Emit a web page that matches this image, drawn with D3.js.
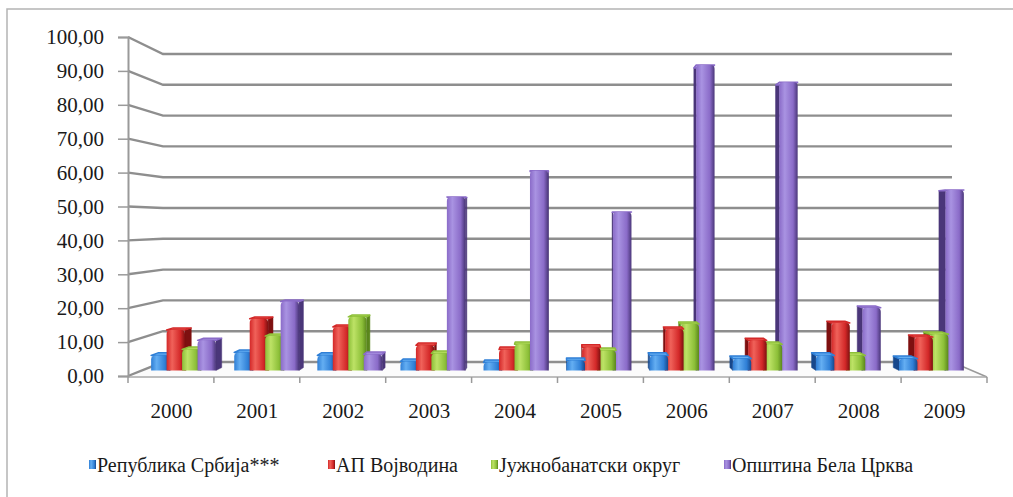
<!DOCTYPE html>
<html>
<head>
<meta charset="utf-8">
<script src="https://cdn.jsdelivr.net/npm/d3@7"></script>
<style>
body{margin:0;background:#fff;}
svg text{font-family:"Liberation Serif","Times New Roman","DejaVu Serif",serif;fill:#1a1a1a;}
</style>
</head>
<body>
<svg width="1013" height="497"></svg>
<script>
// data
var years=['2000','2001','2002','2003','2004','2005','2006','2007','2008','2009'];
var seriesNames=['Република Србија***','АП Војводина','Јужнобанатски округ','Општина Бела Црква'];
var srbija=[4.6,5.5,4.6,2.7,2.4,3.0,4.6,3.6,4.6,3.6];
var vojvodina=[12.4,15.8,13.3,7.7,6.4,7.1,12.7,9.2,14.5,10.2];
var juzniBanat=[6.4,10.5,16.4,5.2,8.0,6.1,14.2,8.0,4.6,11.1];
var belaCrkva=[9.2,21.1,4.9,53.1,61.1,48.5,93.5,88.2,19.2,55.2];
var yTicks=[0,10,20,30,40,50,60,70,80,90,100];

var values=[srbija,vojvodina,juzniBanat,belaCrkva];
var pal=[
 {light:'#64aef2',mid:'#2f7fd6',dark:'#17488c'},
 {light:'#f0625a',mid:'#d32828',dark:'#7e1010'},
 {light:'#bde266',mid:'#8cbf38',dark:'#5a861c'},
 {light:'#a993e2',mid:'#8a6bc8',dark:'#4a3679'}
];
var FONT='"Liberation Serif","Times New Roman","DejaVu Serif",serif';

var svg=d3.select('svg');
// chart area border (top + left only visible)
svg.append('rect').attr('x',7).attr('y',9).attr('width',1100).attr('height',600)
 .attr('fill','none').attr('stroke','#b4b4b4').attr('stroke-width',1.5);

var L=128,R=987;
var x=d3.scaleBand().domain(years).range([L,R]).paddingInner(0.22).paddingOuter(0.11);
var barW=19;
var s=d3.scalePoint().domain(d3.range(4)).range([0,x.bandwidth()-barW]);
var y=d3.scaleLinear().domain([0,100]).range([376,37]);

// simple perspective: depth z in [0,1], back wall at z=1
var vp={x:557.4,y:223};
function proj(X,Y,z){
	var sx=1-0.0815*z, sy=1-0.0914*z;
	return [vp.x+sx*(X-vp.x), vp.y+sy*(Y-vp.y)];
}
function poly(pts){return pts.map(function(p){return p.join(',');}).join(' ');}

var grid=svg.append('g');
// floor
grid.append('polygon').attr('points',poly([proj(L,y(0),0),proj(R,y(0),0),proj(R,y(0),1),proj(L,y(0),1)]))
 .attr('fill','#fbfbfb').attr('stroke','none');
yTicks.forEach(function(v){
	var a=[L,y(v)], b=proj(L,y(v),1), c=proj(R,y(v),1);
	grid.append('polyline').attr('points',poly([a,b,c])).attr('fill','none')
	 .attr('stroke','#8e8e8e').attr('stroke-width',2.4);
});
// floor right edge and front edge
grid.append('line').attr('x1',proj(R,y(0),1)[0]).attr('y1',proj(R,y(0),1)[1]).attr('x2',R).attr('y2',y(0)+1)
 .attr('stroke','#9a9a9a').attr('stroke-width',1.5);
grid.append('line').attr('x1',L).attr('x2',R).attr('y1',y(0)+1).attr('y2',y(0)+1)
 .attr('stroke','#a8a8a8').attr('stroke-width',1.5);
// category boundary ticks
d3.range(11).forEach(function(i){
	var tx=L+i*x.step();
	grid.append('line').attr('x1',tx).attr('x2',tx).attr('y1',y(0)+1).attr('y2',y(0)+7)
	 .attr('stroke','#9a9a9a').attr('stroke-width',1.5);
});

// gradients
var defs=svg.append('defs');
pal.forEach(function(c,i){
	var g=defs.append('linearGradient').attr('id','g'+i).attr('x1','0').attr('x2','1').attr('y1','0').attr('y2','0');
	g.append('stop').attr('offset','0').attr('stop-color',c.mid);
	g.append('stop').attr('offset','0.3').attr('stop-color',c.light);
	g.append('stop').attr('offset','0.75').attr('stop-color',c.mid);
	g.append('stop').attr('offset','1').attr('stop-color',c.dark);
});

// bars
var z0=0.4,z1=0.6;
var bars=[];
years.forEach(function(yr,i){
	values.forEach(function(arr,j){
		var xl=x(yr)+s(j), xr=xl+barW;
		bars.push({i:i,j:j,xl:xl,xr:xr,v:arr[i],c:(xl+xr)/2});
	});
});
bars.sort(function(a,b){return Math.abs(b.c-vp.x)-Math.abs(a.c-vp.x);});
var gb=svg.append('g');
bars.forEach(function(b){
	var c=pal[b.j], yb=y(0), yt=y(b.v);
	var g=gb.append('g');
	var sideX=b.c<vp.x?b.xr:b.xl;
	g.append('polygon').attr('points',poly([proj(sideX,yb,z0),proj(sideX,yt,z0),proj(sideX,yt,z1),proj(sideX,yb,z1)]))
	 .attr('fill',c.dark).attr('stroke',c.dark).attr('stroke-width',0.5).attr('stroke-linejoin','round');
	g.append('polygon').attr('points',poly([proj(b.xl,yt,z0),proj(b.xr,yt,z0),proj(b.xr,yt,z1),proj(b.xl,yt,z1)]))
	 .attr('fill',c.light).attr('stroke',c.mid).attr('stroke-width',1.5).attr('stroke-linejoin','round');
	var p0=proj(b.xl,yt,z0), p1=proj(b.xr,yb,z0);
	g.append('path').attr('fill','url(#g'+b.j+')')
	 .attr('d',function(){
		var r=Math.min(4,(p1[1]-p0[1])/2);
		return 'M'+p0[0]+','+(p1[1])+'V'+(p0[1]+r)+'Q'+p0[0]+','+p0[1]+' '+(p0[0]+r)+','+p0[1]
		 +'H'+(p1[0]-r)+'Q'+p1[0]+','+p0[1]+' '+p1[0]+','+(p0[1]+r)+'V'+p1[1]+'Z';
	 });
});

// axes
var ay=svg.append('g').attr('transform','translate('+L+',0)')
 .call(d3.axisLeft(y).tickValues(yTicks).tickSize(10).tickPadding(14)
   .tickFormat(function(d){return d.toFixed(2).replace('.',',');}));
ay.attr('font-family',FONT);
ay.select('.domain').attr('stroke','#9a9a9a').attr('stroke-width',2);
ay.selectAll('.tick line').attr('stroke','#9a9a9a').attr('stroke-width',1.5);
ay.selectAll('text').attr('font-size',21).attr('fill','#1a1a1a').style('font-family',FONT);

var ax=svg.append('g').attr('transform','translate(0,'+(y(0)+1)+')')
 .call(d3.axisBottom(d3.scalePoint().domain(years).range([L+x.step()/2,R-x.step()/2])).tickSize(0).tickPadding(26));
ax.attr('font-family',FONT);
ax.select('.domain').remove();
ax.selectAll('text').attr('font-size',21).attr('fill','#1a1a1a').style('font-family',FONT);

// legend
var legX=[89,328,491,724];
var leg=svg.append('g');
seriesNames.forEach(function(n,j){
	leg.append('rect').attr('x',legX[j]).attr('y',460).attr('width',7).attr('height',9).attr('fill','url(#g'+j+')');
	leg.append('text').attr('x',legX[j]+8).attr('y',472).attr('font-size',20).style('font-family',FONT).text(n);
});
</script>
</body>
</html>
